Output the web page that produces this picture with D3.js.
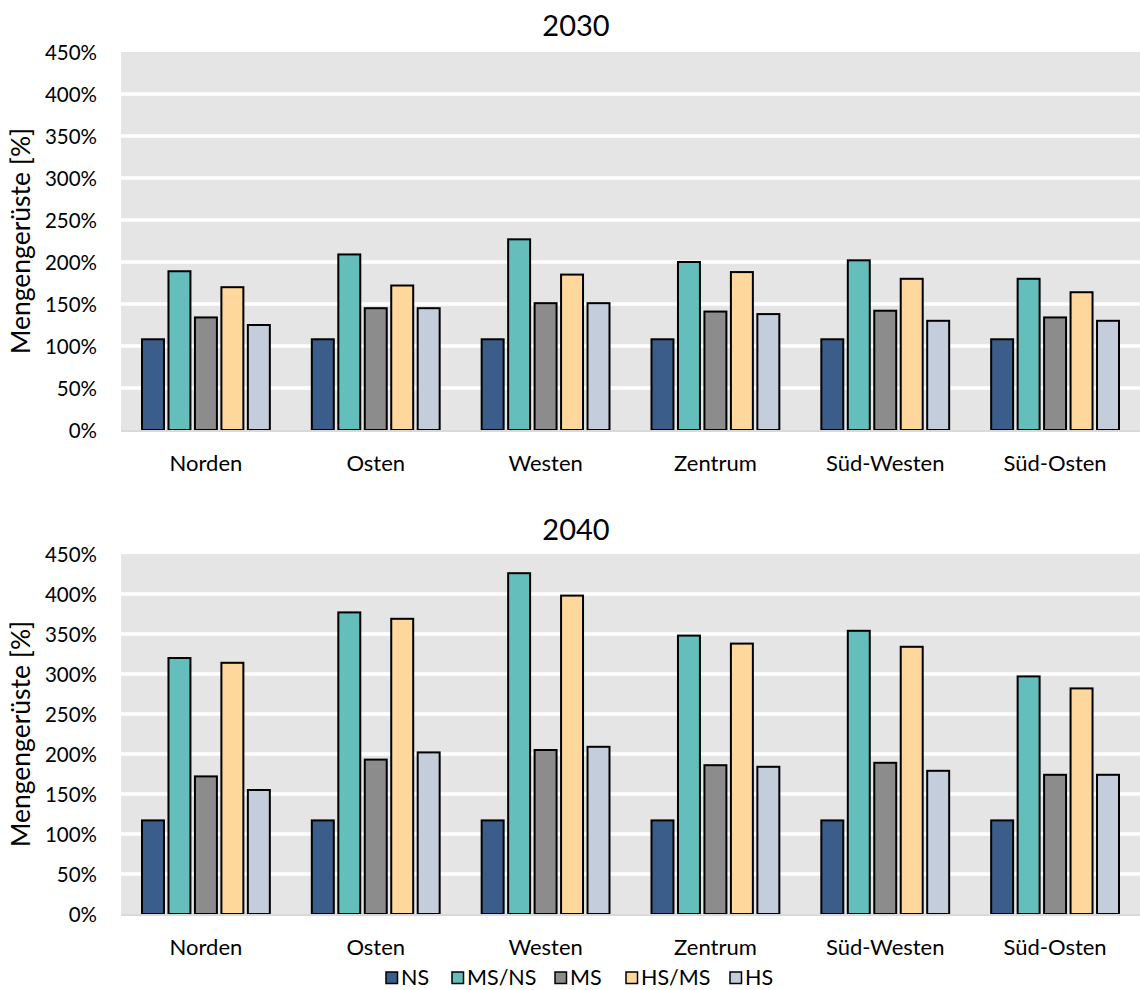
<!DOCTYPE html>
<html>
<head>
<meta charset="utf-8">
<script src="https://cdn.jsdelivr.net/npm/d3@7"></script>
<style>
  html, body { margin: 0; padding: 0; background: #fff; }
  svg text { font-family: Lato, "Open Sans", sans-serif; fill: #000; }
</style>
</head>
<body>
<svg id="chart" width="1140" height="990"></svg>
<script>
// Regions and network levels
const categories = ["Norden", "Osten", "Westen", "Zentrum", "Süd-Westen", "Süd-Osten"];
const seriesNames = ["NS", "MS/NS", "MS", "HS/MS", "HS"];
const seriesColors = ["#3b5d89", "#63bebc", "#8c8c8c", "#fed79c", "#c3cddc"];

// Mengengerüste 2030 [%]
const ns2030   = [108, 108, 108, 108, 108, 108];
const msns2030 = [189, 209, 227, 200, 202, 180];
const ms2030   = [134, 145, 151, 141, 142, 134];
const hsms2030 = [170, 172, 185, 188, 180, 164];
const hs2030   = [125, 145, 151, 138, 130, 130];

// Mengengerüste 2040 [%]
const ns2040   = [117, 117, 117, 117, 117, 117];
const msns2040 = [320, 377, 426, 348, 354, 297];
const ms2040   = [172, 193, 205, 186, 189, 174];
const hsms2040 = [314, 369, 398, 338, 334, 282];
const hs2040   = [155, 202, 209, 184, 179, 174];

const tickValues = [0, 50, 100, 150, 200, 250, 300, 350, 400, 450];
const tickLabels = ["0%", "50%", "100%", "150%", "200%", "250%", "300%", "350%", "400%", "450%"];
const yLabel = "Mengengerüste [%]";

const svg = d3.select("#chart");
const plotLeft = 121, plotRight = 1140;

const x0 = d3.scaleBand().domain(categories).range([plotLeft, plotRight]).padding(0);
const groupPad = 21;
const x1 = d3.scaleBand().domain(seriesNames)
  .range([groupPad, x0.bandwidth() - groupPad])
  .paddingInner(0.17).paddingOuter(0);

function drawPanel(title, seriesData, top, bottom, titleY) {
  const y = d3.scaleLinear().domain([0, 450]).range([bottom, top]);
  const g = svg.append("g");

  // plot background
  g.append("rect")
    .attr("x", plotLeft).attr("y", y(450))
    .attr("width", plotRight - plotLeft).attr("height", y(0) - y(450))
    .attr("fill", "#e5e5e5");

  // white gridlines
  g.selectAll("line.grid").data(tickValues.filter(v => v > 0 && v < 450)).join("line")
    .attr("class", "grid")
    .attr("x1", plotLeft).attr("x2", plotRight)
    .attr("y1", d => y(d)).attr("y2", d => y(d))
    .attr("stroke", "#fff").attr("stroke-width", 3.5);

  // y axis labels
  const yAxis = d3.axisLeft(y).tickValues(tickValues)
    .tickFormat((d, i) => tickLabels[i]).tickSize(0).tickPadding(0);
  const ya = g.append("g").attr("transform", `translate(97,0)`).call(yAxis);
  ya.select(".domain").remove();
  ya.selectAll("text")
    .style("font-family", "Lato, sans-serif").style("font-size", "20.5px")
    .attr("fill", "#000").attr("dy", "0.36em");

  // bars
  const groups = g.selectAll("g.cat").data(categories).join("g")
    .attr("class", "cat")
    .attr("transform", d => `translate(${x0(d)},0)`);
  groups.selectAll("rect").data((d, ci) => seriesNames.map((s, si) => ({ s, si, v: seriesData[si][ci] })))
    .join("rect")
    .attr("x", d => x1(d.s))
    .attr("width", x1.bandwidth())
    .attr("y", d => y(d.v))
    .attr("height", d => y(0) - y(d.v))
    .attr("fill", d => seriesColors[d.si])
    .attr("stroke", "#000").attr("stroke-width", 2);

  // baseline
  g.append("line")
    .attr("x1", plotLeft).attr("x2", plotRight)
    .attr("y1", y(0) + 1).attr("y2", y(0) + 1)
    .attr("stroke", "#d9d9d9").attr("stroke-width", 2);

  // category labels
  g.selectAll("text.cat").data(categories).join("text")
    .attr("class", "cat")
    .attr("x", d => x0(d) + x0.bandwidth() / 2)
    .attr("y", y(0) + 41)
    .attr("text-anchor", "middle")
    .style("font-size", "22px")
    .text(d => d);

  // title
  g.append("text")
    .attr("x", 576).attr("y", titleY)
    .attr("text-anchor", "middle")
    .style("font-size", "29px")
    .text(title);

  // y axis title
  g.append("text")
    .attr("transform", `translate(30,${(y(0) + y(450)) / 2}) rotate(-90)`)
    .attr("text-anchor", "middle")
    .style("font-size", "26.5px")
    .text(yLabel);
}

drawPanel("2030", [ns2030, msns2030, ms2030, hsms2030, hs2030], 52, 430, 36);
drawPanel("2040", [ns2040, msns2040, ms2040, hsms2040, hs2040], 554, 914, 540);

// legend
const legendX = [386, 452, 555, 626, 730];
const lg = svg.append("g");
const items = lg.selectAll("g").data(seriesNames).join("g")
  .attr("transform", (d, i) => `translate(${legendX[i]},972)`);
items.append("rect")
  .attr("width", 11.5).attr("height", 11.5)
  .attr("fill", (d, i) => seriesColors[i])
  .attr("stroke", "#000").attr("stroke-width", 1.5);
items.append("text")
  .attr("x", 15).attr("y", 12.5)
  .style("font-size", "21.5px")
  .text(d => d);
</script>
</body>
</html>
